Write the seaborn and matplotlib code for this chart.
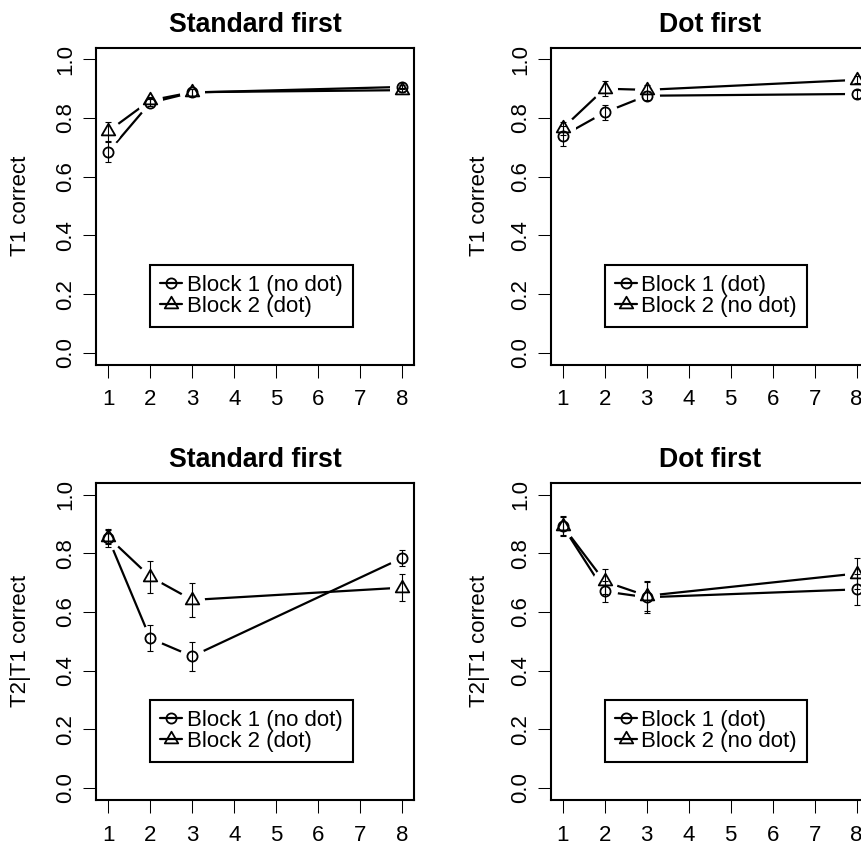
import numpy as np
import pandas as pd
import matplotlib
matplotlib.use("Agg")
import matplotlib.pyplot as plt
import matplotlib.path as mpath
from matplotlib.lines import Line2D
import seaborn as sns

lags = [1, 2, 3, 8]

# T1 correct - standard first
t1_std_b1 = [0.684, 0.852, 0.887, 0.906]
t1_std_b1_se = [0.035, 0.012, 0.012, 0.008]
t1_std_b2 = [0.755, 0.860, 0.888, 0.895]
t1_std_b2_se = [0.033, 0.012, 0.012, 0.008]

# T1 correct - dot first
t1_dot_b1 = [0.739, 0.819, 0.876, 0.882]
t1_dot_b1_se = [0.035, 0.027, 0.015, 0.015]
t1_dot_b2 = [0.765, 0.900, 0.896, 0.930]
t1_dot_b2_se = [0.022, 0.025, 0.015, 0.012]

# T2|T1 correct - standard first
t2_std_b1 = [0.852, 0.510, 0.449, 0.784]
t2_std_b1_se = [0.032, 0.044, 0.050, 0.026]
t2_std_b2 = [0.855, 0.720, 0.641, 0.683]
t2_std_b2_se = [0.025, 0.055, 0.058, 0.047]

# T2|T1 correct - dot first
t2_dot_b1 = [0.893, 0.670, 0.650, 0.677]
t2_dot_b1_se = [0.033, 0.037, 0.053, 0.052]
t2_dot_b2 = [0.893, 0.704, 0.655, 0.731]
t2_dot_b2_se = [0.030, 0.043, 0.050, 0.052]

labels_std = ["Block 1 (no dot)", "Block 2 (dot)"]
labels_dot = ["Block 1 (dot)", "Block 2 (no dot)"]

sns.set_style("white", {"xtick.bottom": True, "ytick.left": True})
plt.rcParams["font.family"] = ["Liberation Sans", "DejaVu Sans"]
plt.rcParams["font.size"] = 16
plt.rcParams["text.color"] = "black"
plt.rcParams["axes.labelcolor"] = "black"

# R-like triangle (pch = 2), centred on its centroid
tri = mpath.Path([(0, 1.555), (1.347, -0.778), (-1.347, -0.778), (0, 1.555)], closed=True)
mk = {"b1": ("o", 7.3), "b2": (tri, 11.2)}


def make_df(b1, b1se, b2, b2se):
    return pd.DataFrame({
        "lag": lags + lags,
        "value": b1 + b2,
        "se": b1se + b2se,
        "block": ["b1"] * 4 + ["b2"] * 4,
    })


panels = [
    (0, 0, "Standard first", "T1 correct", make_df(t1_std_b1, t1_std_b1_se, t1_std_b2, t1_std_b2_se), labels_std),
    (0, 1, "Dot first", "T1 correct", make_df(t1_dot_b1, t1_dot_b1_se, t1_dot_b2, t1_dot_b2_se), labels_dot),
    (1, 0, "Standard first", "T2|T1 correct", make_df(t2_std_b1, t2_std_b1_se, t2_std_b2, t2_std_b2_se), labels_std),
    (1, 1, "Dot first", "T2|T1 correct", make_df(t2_dot_b1, t2_dot_b1_se, t2_dot_b2, t2_dot_b2_se), labels_dot),
]

fig = plt.figure(figsize=(8.62, 8.44), dpi=100)
lefts = [0.1119, 0.6391]
bottoms = [0.5681, 0.0524]
ylab_x = [-0.206, -0.192]

for row, col, title, ylab, d, labs in panels:
    ax = fig.add_axes([lefts[col], bottoms[row], 0.3683, 0.3755])

    sns.lineplot(data=d, x="lag", y="value", units="block", estimator=None,
                 color="black", lw=1.6, legend=False, ax=ax, zorder=1)
    # white halo gives the R type="b" gaps around points
    sns.scatterplot(data=d, x="lag", y="value", color="white", s=324,
                    linewidth=0, marker="o", legend=False, ax=ax, zorder=2)
    for blk, g in d.groupby("block"):
        m, ms = mk[blk]
        ax.plot(g["lag"], g["value"], ls="none", marker=m, ms=ms, mfc="none",
                mec="black", mew=1.3, zorder=3)
    ax.errorbar(d["lag"], d["value"], yerr=d["se"], fmt="none", ecolor="black",
                elinewidth=0.8, capsize=2.3, capthick=0.8, zorder=4)

    ax.set_xlim(0.72, 8.28)
    ax.set_ylim(-0.04, 1.04)
    ax.set_xticks(range(1, 9))
    ax.set_yticks([0, 0.2, 0.4, 0.6, 0.8, 1.0])
    ax.set_yticklabels(["0.0", "0.2", "0.4", "0.6", "0.8", "1.0"])
    ax.tick_params(axis="both", length=9.4, width=0.75, color="black",
                   labelsize=16, labelcolor="black")
    ax.tick_params(axis="x", pad=8.5)
    ax.tick_params(axis="y", pad=5)
    plt.setp(ax.get_yticklabels(), rotation=90, va="center", ha="right")

    for sp in ax.spines.values():
        sp.set_visible(True)
        sp.set_color("black")
        sp.set_linewidth(1.5)
        sp.set_zorder(10)

    ax.set_xlabel("")
    ax.set_ylabel(ylab, fontsize=16, color="black")
    ax.yaxis.set_label_coords(ylab_x[col], 0.5)
    ax.set_title(title, fontsize=19.2, fontweight="bold", pad=11.5, color="black")

    handles = [
        Line2D([], [], color="black", lw=1.6, marker=mk["b1"][0], ms=mk["b1"][1],
               mfc="none", mec="black", mew=1.3),
        Line2D([], [], color="black", lw=1.6, marker=mk["b2"][0], ms=mk["b2"][1],
               mfc="none", mec="black", mew=1.3),
    ]
    leg = ax.legend(handles, labs, loc="upper left", bbox_to_anchor=(2, 0.3),
                    bbox_transform=ax.transData, borderaxespad=0, fontsize=16,
                    frameon=True, fancybox=False, framealpha=1, edgecolor="black",
                    borderpad=0.45, labelspacing=0.0, handlelength=1.0,
                    handletextpad=0.2, numpoints=1, labelcolor="black")
    leg.get_frame().set_linewidth(1.5)
    leg.set_zorder(20)

fig.savefig("out.png", dpi=100)
